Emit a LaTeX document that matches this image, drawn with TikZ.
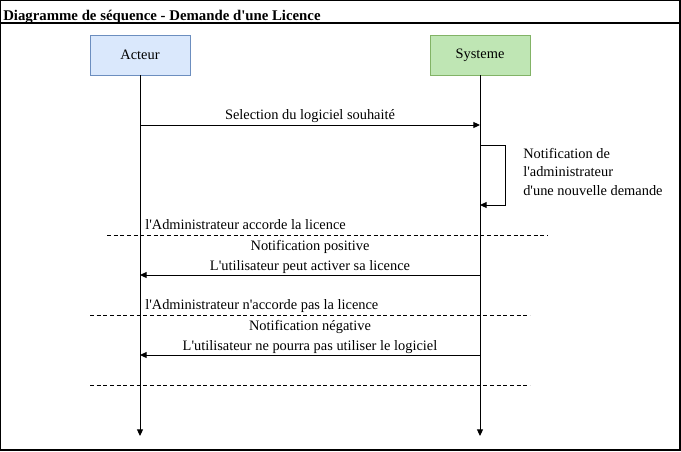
\documentclass[tikz,border=0pt]{standalone}
\usepackage{fontspec}
\setmainfont{Liberation Serif}[Ligatures=TeXOff]
\usetikzlibrary{arrows.meta}
\definecolor{actfill}{HTML}{DAE8FC}
\definecolor{actdraw}{HTML}{6C8EBF}
\definecolor{sysfill}{HTML}{BFE6B4}
\definecolor{sysdraw}{HTML}{82B366}
\begin{document}
\begin{tikzpicture}[x=0.75pt,y=-0.75pt,
  every node/.style={font=\fontsize{10.8pt}{13pt}\selectfont},
  part/.style={draw, minimum width=75pt, minimum height=30pt, inner sep=0pt},
  msg/.style={-{Triangle[length=5pt,width=4.5pt]}, line width=0.75pt},
  life/.style={-{Triangle[length=5pt,width=4.5pt]}, line width=0.75pt},
  sep/.style={dashed, dash pattern=on 3pt off 2pt, line width=0.6pt},
  lbl/.style={inner sep=0pt, anchor=base}]
\useasboundingbox (0,0) rectangle (681,451);
% frame
\draw[line width=0.9pt] (0.5,0.5) rectangle (680,450);
\draw[line width=0.9pt] (0.5,23) -- (680,23);
\node[anchor=base west, inner sep=0pt, font=\bfseries\fontsize{11.1pt}{13pt}\selectfont] (title) at (3,20) {Diagramme de séquence - Demande d'une Licence};
% participants
\node[part, fill=actfill, draw=actdraw] (a) at (140,55) {Acteur};
\node[part, fill=sysfill, draw=sysdraw] (s) at (480,55) {Systeme};
\coordinate (aend) at (140,436);
\coordinate (send) at (480,436);
\draw[life] (a.south) -- (aend);
\draw[life] (s.south) -- (send);
% message 1
\coordinate (m1a) at (140,125);
\coordinate (m1s) at (480,125);
\draw[msg] (m1a) -- (m1s);
\node[lbl] (l1) at (310,119.5) {Selection du logiciel souhaité};
% self message
\coordinate (sl1) at (480,145);
\coordinate (sl2) at (505,145);
\coordinate (sl3) at (505,205);
\coordinate (sl4) at (480,205);
\draw[msg] (sl1) -- (sl2) -- (sl3) -- (sl4);
\node[anchor=base west, inner sep=0pt] (l2a) at (523,158) {Notification de};
\node[anchor=base west, inner sep=0pt] (l2b) at (523,176.5) {l'administrateur};
\node[anchor=base west, inner sep=0pt] (l2c) at (523,195) {d'une nouvelle demande};
% separator 1
\coordinate (d1a) at (107,235);
\coordinate (d1b) at (548,235);
\draw[sep] (d1a) -- (d1b);
\node[anchor=base west, inner sep=0pt] (g1) at (145,229.5) {l'Administrateur accorde la licence};
% message 2
\coordinate (m2s) at (480,275);
\coordinate (m2a) at (140,275);
\draw[msg] (m2s) -- (m2a);
\node[lbl] (l3a) at (310,250.5) {Notification positive};
\node[lbl] (l3b) at (310,270) {L'utilisateur peut activer sa licence};
% separator 2
\coordinate (d2a) at (90,315);
\coordinate (d2b) at (530,315);
\draw[sep] (d2a) -- (d2b);
\node[anchor=base west, inner sep=0pt] (g2) at (145,309.5) {l'Administrateur n'accorde pas la licence};
% message 3
\coordinate (m3s) at (480,355);
\coordinate (m3a) at (140,355);
\draw[msg] (m3s) -- (m3a);
\node[lbl] (l4a) at (310,330.5) {Notification négative};
\node[lbl] (l4b) at (310,350) {L'utilisateur ne pourra pas utiliser le logiciel};
% separator 3
\coordinate (d3a) at (90,385);
\coordinate (d3b) at (530,385);
\draw[sep] (d3a) -- (d3b);
\end{tikzpicture}
\end{document}
